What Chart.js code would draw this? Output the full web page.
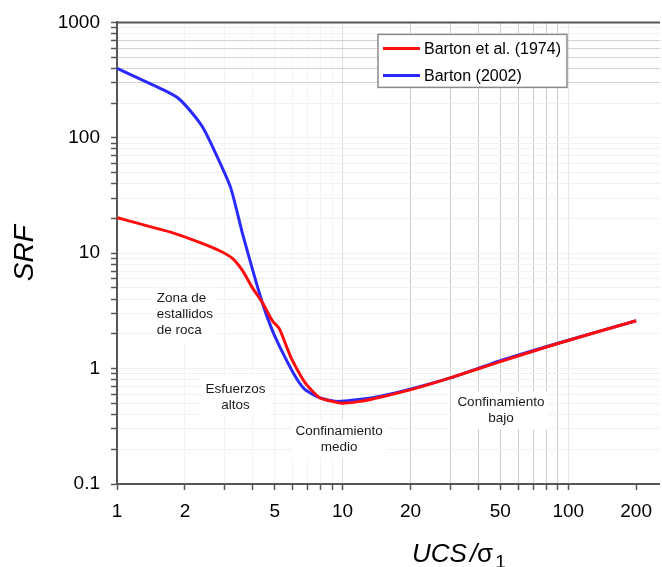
<!DOCTYPE html>
<html>
<head>
<meta charset="utf-8">
<script src="https://cdn.jsdelivr.net/npm/chart.js@4.4.1/dist/chart.umd.min.js"></script>
<style>
  html, body { margin: 0; padding: 0; background: #fff; }
  #wrap { width: 662px; height: 567px; }
</style>
</head>
<body>
<div id="wrap"><canvas id="srfChart" width="662" height="567"></canvas></div>
<script>
// Barton (2002) - blue curve
const barton02X = [1, 1.64, 1.88, 2.17, 2.42, 2.74, 3.19, 3.6, 4.41, 4.9, 5.5, 6.2, 6.8, 7.9, 9.4, 11.8, 14.9, 20.3, 30, 50, 90, 200];
const barton02Y = [400, 255, 218, 161, 120, 73, 37, 14.8, 3.7, 2.1, 1.3, 0.84, 0.66, 0.56, 0.52, 0.54, 0.58, 0.67, 0.83, 1.17, 1.66, 2.6];

// Barton et al. (1974) - red curve
const barton74X = [1, 1.77, 2.32, 2.85, 3.25, 3.6, 3.98, 4.41, 4.88, 5.24, 5.69, 5.93, 6.8, 7.9, 9.4, 10, 12, 15, 20.3, 30, 50, 90, 200];
const barton74Y = [20.3, 15, 12.4, 10.5, 9.0, 7.05, 5.03, 3.73, 2.6, 2.22, 1.49, 1.22, 0.76, 0.56, 0.51, 0.5, 0.52, 0.57, 0.66, 0.83, 1.15, 1.65, 2.6];

// axis ticks (every 1..9 per decade) and the ones that get a label
const xTicks = [1, 2, 3, 4, 5, 6, 7, 8, 9, 10, 20, 30, 40, 50, 60, 70, 80, 90, 100, 200];
const xLabels = [1, 2, 5, 10, 20, 50, 100, 200];
const yTicks = [];
[-1, 0, 1, 2].forEach(e => {
    for (let m = 1; m <= 9; m++) yTicks.push(parseFloat((m * Math.pow(10, e)).toPrecision(3)));
});
yTicks.push(1000);
const yLabels = [0.1, 1, 10, 100, 1000];

const fontFamily = "Arial, 'Liberation Sans', Helvetica, sans-serif";

// zone notes, anchored in data units
const notes = [
    { lines: ['Zona de', 'estallidos', 'de roca'], x: 1.5, y: 2.93, align: 'left' },
    { lines: ['Esfuerzos', 'altos'], x: 3.35, y: 0.567, align: 'center' },
    { lines: ['Confinamiento', 'medio'], x: 9.65, y: 0.245, align: 'center' },
    { lines: ['Confinamiento', 'bajo'], x: 50.3, y: 0.433, align: 'center' }
];

function xGridColor(v) {
    if (v >= 20 && v <= 90) return '#cdcdcd';
    if (v === 10) return '#dedede';
    if (v === 100) return '#e6e6e6';
    if (v === 200) return 'rgba(0,0,0,0)';
    return '#f3f3f3';
}
function yGridColor(v) {
    if (v >= 300 && v <= 700) return '#d2d2d2';
    return '#f1f1f1';
}

const srfDecor = {
    id: 'srfDecor',
    beforeDatasetsDraw(chart) {
        const ctx = chart.ctx;
        const xs = chart.scales.x, ys = chart.scales.y;
        ctx.save();
        ctx.font = '13.5px ' + fontFamily;
        ctx.textBaseline = 'middle';
        notes.forEach(n => {
            const px = xs.getPixelForValue(n.x);
            const py = ys.getPixelForValue(n.y);
            const lh = 16;
            const widths = n.lines.map(l => ctx.measureText(l).width);
            const w = Math.max(...widths);
            const h = lh * n.lines.length;
            const left = n.align === 'left' ? px : px - w / 2;
            ctx.fillStyle = '#fff';
            ctx.fillRect(left - 4, py - h / 2 - 3, w + 8, h + 6);
            ctx.fillStyle = '#1a1a1a';
            ctx.textAlign = n.align;
            n.lines.forEach((l, i) => {
                ctx.fillText(l, px, py - h / 2 + lh / 2 + i * lh);
            });
        });
        ctx.restore();
    },
    afterDraw(chart) {
        const ctx = chart.ctx;
        const area = chart.chartArea;
        ctx.save();

        // top frame line
        ctx.strokeStyle = '#555';
        ctx.lineWidth = 2;
        ctx.beginPath();
        ctx.moveTo(area.left, area.top);
        ctx.lineTo(area.right, area.top);
        ctx.stroke();

        // legend box
        ctx.font = '16px ' + fontFamily;
        const sets = chart.data.datasets;
        const textW = Math.max(...sets.map(d => ctx.measureText(d.label).width));
        const bx = area.left + 261, by = area.top + 12;
        const bw = 5 + 37 + 4 + textW + 6, bh = 53;
        ctx.fillStyle = '#fff';
        ctx.fillRect(bx, by, bw, bh);
        ctx.strokeStyle = '#8a8a8a';
        ctx.lineWidth = 1.5;
        ctx.strokeRect(bx, by, bw, bh);
        sets.forEach((d, i) => {
            const ry = by + 14 + i * 27;
            ctx.strokeStyle = d.borderColor;
            ctx.lineWidth = 3;
            ctx.beginPath();
            ctx.moveTo(bx + 5, ry);
            ctx.lineTo(bx + 42, ry);
            ctx.stroke();
            ctx.fillStyle = '#000';
            ctx.textAlign = 'left';
            ctx.textBaseline = 'middle';
            ctx.fillText(d.label, bx + 46, ry + 1);
        });

        // x axis title: UCS /σ1
        let tx = 412;
        const base = 562;
        ctx.fillStyle = '#000';
        ctx.textAlign = 'left';
        ctx.textBaseline = 'alphabetic';
        ctx.font = 'italic 26px ' + fontFamily;
        ctx.fillText('UCS', tx, base);
        tx += ctx.measureText('UCS').width + 3;
        ctx.fillText('/', tx, base);
        tx += ctx.measureText('/').width;
        ctx.font = '26px ' + fontFamily;
        ctx.fillText('σ', tx, base);
        tx += ctx.measureText('σ').width + 2;
        ctx.font = '19px ' + fontFamily;
        ctx.fillText('1', tx, base + 6);

        ctx.restore();
    }
};

const toPoints = (xs, ys) => xs.map((x, i) => ({ x: x, y: ys[i] }));

new Chart(document.getElementById('srfChart').getContext('2d'), {
    type: 'line',
    data: {
        datasets: [{
            label: 'Barton et al. (1974)',
            data: toPoints(barton74X, barton74Y),
            borderColor: '#ff0d0d',
            borderWidth: 3,
            pointRadius: 0,
            tension: 0.2,
            fill: false
        }, {
            label: 'Barton (2002)',
            data: toPoints(barton02X, barton02Y),
            borderColor: '#2a2aff',
            borderWidth: 3,
            pointRadius: 0,
            tension: 0.2,
            fill: false
        }]
    },
    options: {
        responsive: false,
        animation: false,
        layout: { padding: { top: 22, right: 0, bottom: 0, left: 0 } },
        plugins: {
            legend: { display: false },
            tooltip: { enabled: false }
        },
        scales: {
            x: {
                type: 'logarithmic',
                min: 1,
                max: 255,
                afterBuildTicks: s => { s.ticks = xTicks.map(v => ({ value: v })); },
                afterFit: s => { s.height = 83; },
                border: { display: true, color: '#555', width: 2 },
                grid: {
                    color: c => xGridColor(c.tick ? c.tick.value : 0),
                    lineWidth: 1,
                    tickColor: '#555',
                    tickLength: 6,
                    tickWidth: 1.5
                },
                ticks: {
                    autoSkip: false,
                    maxRotation: 0,
                    minRotation: 0,
                    padding: 10,
                    color: '#000',
                    font: { family: fontFamily, size: 19 },
                    callback: v => xLabels.includes(v) ? String(v) : ''
                }
            },
            y: {
                type: 'logarithmic',
                min: 0.1,
                max: 1000,
                afterBuildTicks: s => { s.ticks = yTicks.map(v => ({ value: v })); },
                afterFit: s => { s.width = 117; },
                border: { display: true, color: '#555', width: 2 },
                grid: {
                    color: c => yGridColor(c.tick ? c.tick.value : 0),
                    lineWidth: 1,
                    tickColor: '#555',
                    tickLength: 6,
                    tickWidth: 1.5
                },
                ticks: {
                    autoSkip: false,
                    padding: 11,
                    color: '#000',
                    font: { family: fontFamily, size: 19 },
                    callback: v => yLabels.includes(v) ? String(v) : ''
                },
                title: {
                    display: true,
                    text: 'SRF',
                    color: '#000',
                    font: { family: fontFamily, size: 28, style: 'italic' },
                    padding: { top: 8, bottom: 0 }
                }
            }
        }
    },
    plugins: [srfDecor]
});
</script>
</body>
</html>
